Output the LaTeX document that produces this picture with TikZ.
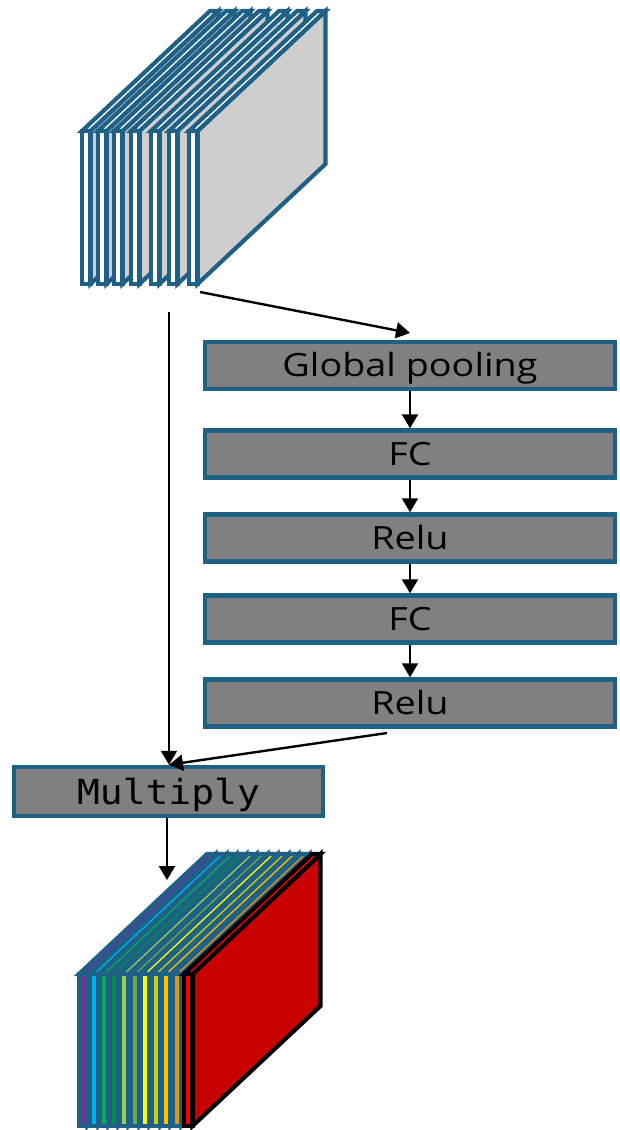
\documentclass[tikz,border=0pt]{standalone}
\usepackage{fontspec}
\setmainfont{Open Sans}
\newfontfamily\labelfont[FakeStretch=1.18]{Open Sans}
\newfontfamily\monofont[FakeStretch=1.1]{DejaVu Sans Mono}
\usetikzlibrary{arrows.meta}

\definecolor{edgeblue}{RGB}{30,96,134}
\definecolor{boxgray}{RGB}{128,128,128}
\definecolor{sidegray}{RGB}{206,206,206}
\definecolor{cPurple}{RGB}{112,48,160}
\definecolor{cCyan}{RGB}{0,176,240}
\definecolor{cGreen}{RGB}{0,176,80}
\definecolor{cDarkGreen}{RGB}{0,140,75}
\definecolor{cLightGreen}{RGB}{146,208,80}
\definecolor{cOlive}{RGB}{112,168,70}
\definecolor{cYellow}{RGB}{255,255,0}
\definecolor{cYellowOlive}{RGB}{205,205,20}
\definecolor{cOrange}{RGB}{255,192,0}
\definecolor{cDarkOrange}{RGB}{225,150,20}
\definecolor{cRed}{RGB}{255,0,0}
\definecolor{cDarkRed}{RGB}{200,0,0}

% one slab of a feature-map stack: right side face, top face, front face
% #1 left x, #2 top y, #3 bottom y, #4 front/top fill, #5 side fill, #6 outline
\newcommand\featslab[6]{%
  \pgfmathsetmacro\xr{#1+8.5}%
  \filldraw[slabline,draw=#6,fill=#5]
    (\xr,#2) -- (\xr,#3) -- (\xr+128,#3-120) -- (\xr+128,#2-120) -- cycle;
  \filldraw[slabline,draw=#6,fill=#4]
    (#1,#2) -- (\xr,#2) -- (\xr+128,#2-120) -- (#1+128,#2-120) -- cycle;
  \filldraw[slabline,draw=#6,fill=#4]
    (#1,#2) rectangle (\xr,#3);
}

\tikzset{
  slabline/.style={line width=4.2, line join=miter},
  stage/.style={draw=edgeblue, fill=boxgray, line width=4.5, rectangle,
    inner sep=0pt, minimum width=410, minimum height=47,
    font=\labelfont\fontsize{32}{32}\selectfont, text height=22.5pt, text depth=0pt},
  mulbox/.style={draw=edgeblue, fill=boxgray, line width=4.5, rectangle,
    inner sep=0pt, minimum width=309, minimum height=49,
    font=\monofont\fontsize{34.5}{34.5}\selectfont, text height=25pt, text depth=0pt},
  arr/.style={draw=black, line width=2.4,
    -{Triangle[length=14pt,width=16pt]}},
}

\begin{document}
\begin{tikzpicture}[x=1pt,y=-1pt]
\useasboundingbox (0,0) rectangle (619,1130);

% input feature map
\foreach \sx in {82,98,114,131,151,169,189}{
  \featslab{\sx}{131}{284}{white}{sidegray}{edgeblue}
}

% recalibrated feature map
\foreach \sx/\col in {79/cPurple,90/cCyan,100/cGreen,110/cDarkGreen,
    120/cLightGreen,131/cOlive,141/cYellow,152/cYellowOlive,162/cOrange,
    173/cDarkOrange}{
  \featslab{\sx}{974}{1126}{\col}{edgeblue}{edgeblue}
}
\featslab{184}{974}{1126}{cRed}{cDarkRed}{black}

% excitation branch
\node[stage] (gp)    at (410,365.5) {Global pooling};
\node[stage] (fc1)   at (410,454)   {FC};
\node[stage] (relu1) at (410,538)   {Relu};
\node[stage] (fc2)   at (410,619)   {FC};
\node[stage] (relu2) at (410,703)   {Relu};
\node[mulbox] (mul)  at (168.5,791.5) {Multiply};

% connector end points
\coordinate (inout)  at (200,292);
\coordinate (gpin)   at (410,333);
\coordinate (split)  at (169,312);
\coordinate (scale)  at (387,733);
\coordinate (outtop) at (167,880);

\draw[arr] (inout) -- (gpin);
\draw[arr] (gp.south) -- (fc1.north);
\draw[arr] (fc1.south) -- (relu1.north);
\draw[arr] (relu1.south) -- (fc2.north);
\draw[arr] (fc2.south) -- (relu2.north);
\draw[arr] (split) -- (split |- mul.north);
\draw[arr] (scale) -- (split |- mul.north);
\draw[arr] (mul.south -| outtop) -- (outtop);
\end{tikzpicture}
\end{document}
